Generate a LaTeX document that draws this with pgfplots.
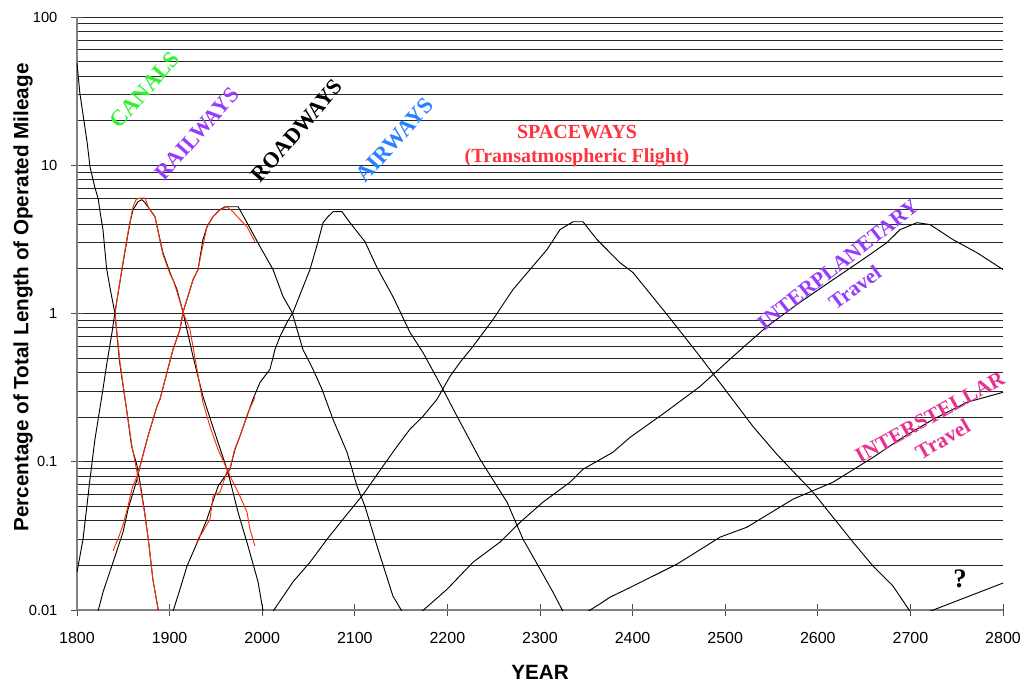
\documentclass[border=0pt]{standalone}
\usepackage{fontspec}
\setmainfont{Liberation Serif}
\newfontfamily\arial{Liberation Sans}
\usepackage{pgfplots}
\pgfplotsset{compat=1.18}
\definecolor{canalc}{RGB}{51,240,51}
\definecolor{purplec}{RGB}{150,60,250}
\definecolor{bluec}{RGB}{40,130,255}
\definecolor{spacec}{RGB}{255,51,60}
\definecolor{pinkc}{RGB}{230,50,145}
\definecolor{datared}{RGB}{255,45,10}
\begin{document}
\begin{tikzpicture}
\begin{axis}[
  scale only axis, width=694.5pt, height=444.75pt,
  at={(0,0)}, anchor=south west,
  ymode=log, xmin=1800, xmax=2800, ymin=0.01, ymax=100,
  axis lines=left,
  axis line style={-, draw=black!50, line width=1.3pt},
  clip mode=individual,
  xtick={1800,1900,2000,2100,2200,2300,2400,2500,2600,2700,2800},
  xticklabels={\mbox{1800},\mbox{1900},\mbox{2000},\mbox{2100},\mbox{2200},\mbox{2300},\mbox{2400},\mbox{2500},\mbox{2600},\mbox{2700},\mbox{2800}},
  ytick={0.01,0.1,1,10,100},
  yticklabels={\mbox{0.01},\mbox{0.1},\mbox{1},\mbox{10},\mbox{100}},
  minor ytick={0.02,0.03,0.04,0.05,0.06,0.07,0.08,0.09,0.2,0.3,0.4,0.5,0.6,0.7,0.8,0.9,2,3,4,5,6,7,8,9,20,30,40,50,60,70,80,90},
  ymajorgrids=true, yminorgrids=true, xmajorgrids=false,
  major grid style={draw=black!85, line width=0.65pt},
  minor grid style={draw=black!85, line width=0.65pt},
  tick align=center, major tick length=9pt, minor tick length=0pt,
  tick style={draw=black!70, line width=0.7pt},
  xticklabel style={font=\arial\fontsize{12}{12}\selectfont, anchor=north, inner sep=0pt, yshift=-12pt},
  yticklabel style={font=\arial\fontsize{11}{11}\selectfont, anchor=east, inner sep=0pt, xshift=-10pt},
  xlabel={YEAR},
  xlabel style={font=\arial\bfseries\fontsize{15.5}{15.5}\selectfont, at={(axis description cs:0.5,-0.106)}, anchor=center},
  ylabel={Percentage of Total Length of Operated Mileage},
  ylabel style={font=\arial\bfseries\fontsize{15.5}{15.5}\selectfont, at={(axis description cs:-0.0583,0.527)}, anchor=center},
]
% Canals (declining)
\addplot[black, line width=0.7pt] coordinates {(1800,49)(1803,31)(1811,14.2)(1814,9.8)(1819,7.2)(1823,5.9)(1825,4.8)(1828,3.7)(1832,2.0)(1836,1.45)(1841,1.0)(1846,0.47)(1854,0.215)(1859,0.127)(1865,0.093)(1868,0.073)(1873,0.046)(1877,0.030)(1882,0.016)(1888,0.0098)};
% Railways
\addplot[black, line width=0.7pt] coordinates {(1800,0.018)(1806.5,0.030)(1814,0.076)(1819.4,0.142)(1828,0.308)(1832.4,0.468)(1837.8,0.745)(1841,1.02)(1848.6,1.98)(1854,3.15)(1857.2,4.10)(1860.5,5.02)(1865.9,5.68)(1870.2,5.86)(1873.4,5.59)(1878.8,5.02)(1884.2,4.50)(1889.6,3.15)(1892.8,2.57)(1900.4,1.89)(1908,1.45)(1914.5,1.02)(1925.3,0.513)(1936,0.276)(1952.3,0.135)(1963,0.085)(1973.9,0.0457)(1984.7,0.027)(1995.5,0.0155)(2001,0.0098)};
% Roadways
\addplot[black, line width=0.7pt] coordinates {(1822.7,0.0098)(1828.1,0.0132)(1838.9,0.021)(1849.7,0.0335)(1855.1,0.0478)(1864.8,0.076)(1868,0.093)(1876.7,0.149)(1886.4,0.237)(1889.6,0.264)(1897.2,0.401)(1903.7,0.572)(1911.2,0.78)(1914.5,1.02)(1925.3,1.69)(1930.7,1.98)(1936,3.15)(1940.4,3.85)(1946.9,4.50)(1954.4,5.02)(1960,5.25)(1974,5.25)(1983.6,4.10)(1997.6,2.83)(2011.7,1.98)(2022.5,1.30)(2032.2,1.02)(2044,0.572)(2054.9,0.42)(2064.6,0.308)(2076.5,0.193)(2091.6,0.116)(2102.4,0.0684)(2111,0.050)(2124,0.027)(2141.2,0.0124)(2151,0.0098)};
% Airways
\addplot[black, line width=0.7pt] coordinates {(1903.7,0.0098)(1911.2,0.0138)(1918.8,0.0198)(1932.8,0.0315)(1940.4,0.041)(1952.3,0.0684)(1965.2,0.089)(1970.6,0.121)(1976,0.149)(1990,0.264)(1997.6,0.343)(2008.4,0.42)(2013.8,0.572)(2019.2,0.70)(2026.8,0.87)(2033.3,1.02)(2051.6,1.98)(2060.3,3.05)(2065.7,4.10)(2071,4.50)(2076.5,4.86)(2086.2,4.86)(2094.8,4.10)(2111,3.05)(2124,2.04)(2141.2,1.30)(2159.6,0.745)(2173.6,0.546)(2195.2,0.308)(2210.4,0.2025)(2235.2,0.104)(2264.4,0.0534)(2281.6,0.0301)(2300,0.0189)(2314,0.0132)(2324.8,0.0098)};
% Spaceways
\addplot[black, line width=0.7pt] coordinates {(2011.7,0.0098)(2033.3,0.0155)(2051.6,0.021)(2070,0.030)(2087.3,0.041)(2108.9,0.060)(2130.4,0.0933)(2145.6,0.127)(2159.6,0.166)(2173.6,0.2025)(2188.8,0.264)(2202.8,0.377)(2213.6,0.468)(2227.6,0.60)(2249.2,0.91)(2270.8,1.45)(2289.2,1.98)(2307.6,2.70)(2321.6,3.68)(2335.6,4.16)(2346.4,4.16)(2361.6,3.15)(2386.4,2.20)(2400.4,1.89)(2437.1,0.985)(2472.8,0.513)(2530,0.173)(2555.9,0.112)(2594.8,0.0623)(2638,0.0287)(2659.6,0.0198)(2681.2,0.0145)(2699.6,0.0098)};
% Interplanetary
\addplot[black, line width=0.7pt] coordinates {(2172.6,0.0098)(2199.6,0.0138)(2227.6,0.021)(2256.8,0.0287)(2278.4,0.039)(2303.2,0.0534)(2332.4,0.0728)(2346.4,0.089)(2378.8,0.116)(2397.2,0.146)(2435,0.215)(2472.8,0.322)(2508.4,0.513)(2545.1,0.818)(2580.8,1.19)(2616.4,1.69)(2653.1,2.42)(2674.7,3.01)(2688.8,3.68)(2707.1,4.10)(2721.2,3.98)(2746,3.15)(2771.9,2.57)(2800,1.98)};
% Interstellar
\addplot[black, line width=0.7pt] coordinates {(2351.8,0.0098)(2364.8,0.011)(2375.6,0.0122)(2400.4,0.0145)(2448,0.0204)(2494.4,0.031)(2523.5,0.0362)(2573.2,0.0559)(2616.4,0.0728)(2659.6,0.107)(2688.8,0.142)(2724.4,0.193)(2761.1,0.252)(2800,0.294)};
% ?
\addplot[black, line width=0.7pt] coordinates {(2721,0.0098)(2800,0.0152)};
% red data lines
\addplot[datared, line width=0.7pt] coordinates {(1841,1.0)(1846,1.6)(1851,2.5)(1855,3.5)(1860.5,5.25)(1864,5.9)(1868,6.0)(1873.4,6.0)(1876.7,5.3)(1878.8,5.0)(1884.2,4.5)(1889.6,3.1)(1892.8,2.5)(1900.4,1.85)(1903.7,1.69)(1908,1.4)(1914.5,1.02)(1922,0.78)(1929.6,0.42)(1936,0.252)(1943.6,0.173)(1952.3,0.121)(1962,0.089)(1968.5,0.073)(1976,0.0586)(1983.6,0.0457)(1986.8,0.035)(1992.2,0.027)};
\addplot[datared, line width=0.7pt] coordinates {(1841,1.0)(1846.4,0.47)(1854,0.215)(1859.4,0.127)(1862,0.105)(1864.8,0.085)(1866,0.072)(1868,0.070)(1873,0.045)(1877,0.030)(1882,0.016)(1888,0.0098)};
\addplot[datared, line width=0.7pt] coordinates {(1838.9,0.025)(1845,0.031)(1850,0.038)(1855,0.05)(1860,0.068)(1865,0.08)(1868,0.093)(1876.7,0.149)(1886.4,0.237)(1889.6,0.264)(1897.2,0.401)(1903.7,0.572)(1911.2,0.78)(1914.5,1.02)(1925.3,1.69)(1930.7,1.98)(1935,2.70)(1940.4,3.85)(1946.9,4.5)(1954.4,5.0)(1962,5.25)(1968.5,4.86)(1976,4.3)(1983.6,3.85)(1992.2,3.05)};
\addplot[datared, line width=0.7pt] coordinates {(1929,0.028)(1931,0.0305)(1935,0.033)(1943.6,0.041)(1946.9,0.0586)(1954.4,0.0623)(1962,0.0862)(1965.2,0.09)(1970,0.12)(1976,0.149)(1984.7,0.215)(1992.2,0.272)};
% labels
\node[rotate=49, text=canalc, font=\bfseries\fontsize{17}{17}\selectfont] at (axis cs:1873.4,32.2) {CANALS};
\node[rotate=48.6, text=purplec, font=\bfseries\fontsize{16.5}{16.5}\selectfont] at (axis cs:1929.6,16.3) {RAILWAYS};
\node[rotate=49, text=black, font=\bfseries\fontsize{16.5}{16.5}\selectfont] at (axis cs:2037.6,17.1) {ROADWAYS};
\node[rotate=48.5, text=bluec, font=\bfseries\fontsize{17}{17}\selectfont] at (axis cs:2143.4,14.8) {AIRWAYS};
\node[text=spacec, font=\bfseries\fontsize{15}{15}\selectfont] at (axis cs:2340,16.8) {SPACEWAYS};
\node[text=spacec, font=\bfseries\fontsize{15}{15}\selectfont] at (axis cs:2340,11.2) {(Transatmospheric Flight)};
\node[rotate=38, text=purplec, font=\bfseries\fontsize{16}{16}\selectfont] at (axis cs:2621.8,2.14) {INTERPLANETARY};
\node[rotate=36, text=purplec, font=\bfseries\fontsize{16}{16}\selectfont] at (axis cs:2640,1.50) {Travel};
\node[rotate=29, text=pinkc, font=\bfseries\fontsize{16}{16}\selectfont] at (axis cs:2721,0.20) {INTERSTELLAR};
\node[rotate=30, text=pinkc, font=\bfseries\fontsize{16}{16}\selectfont] at (axis cs:2735,0.142) {Travel};
\node[text=black, font=\bfseries\fontsize{20}{20}\selectfont] at (axis cs:2753.5,0.0162) {?};
\end{axis}
\pgfresetboundingbox
\path[use as bounding box] (-57.75pt,-57.75pt) rectangle (711pt,457.5pt);
\end{tikzpicture}
\end{document}
